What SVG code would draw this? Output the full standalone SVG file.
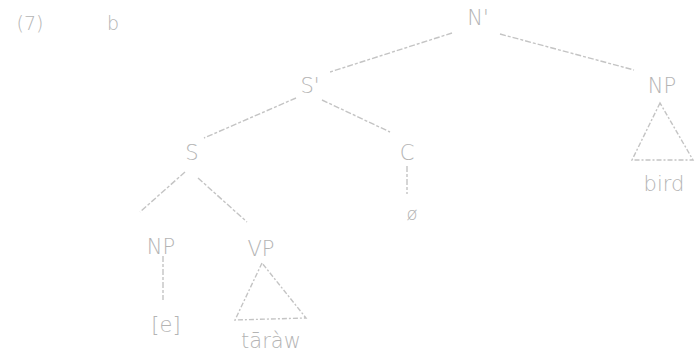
<svg xmlns="http://www.w3.org/2000/svg" width="696" height="358" viewBox="0 0 696 358">
<style>
text{font-family:"DejaVu Sans","Liberation Sans",sans-serif;font-size:21px;fill:#b4b4b4;text-anchor:middle;font-weight:300}
.e{stroke:#c4c4c4;stroke-width:1.4;fill:none;stroke-dasharray:6 2 3 2}
.t{stroke:#c4c4c4;stroke-width:1.4;fill:none;stroke-dasharray:5 2 2 2}
</style>
<rect width="696" height="358" fill="#fff"/>
<g id="label"><text x="30" y="30" style="font-size:19px">(7)</text><text x="113" y="30" style="font-size:19px">b</text></g>
<g id="connectors">
<line class="e" x1="452" y1="33" x2="330" y2="72"/>
<line class="e" x1="500" y1="34" x2="634" y2="70"/>
<line class="e" x1="296" y1="98" x2="204" y2="138"/>
<line class="e" x1="322" y1="100" x2="390" y2="132"/>
<line class="e" x1="407" y1="166" x2="407" y2="194"/>
<line class="e" x1="185" y1="172" x2="140" y2="212"/>
<line class="e" x1="198" y1="178" x2="247" y2="222"/>
<line class="e" x1="163" y1="256" x2="163" y2="300"/>
</g>
<g id="n-Nbar"><text x="478" y="25">N'</text></g>
<g id="n-Sbar"><text x="310" y="93">S'</text></g>
<g id="n-NP2"><text x="662" y="93">NP</text><polygon class="t" points="660,103 632,160 693,160"/><text x="664" y="191">bird</text></g>
<g id="n-S"><text x="192" y="160">S</text></g>
<g id="n-C"><text x="407" y="160">C</text></g>
<g id="n-null"><text x="412" y="220" style="font-size:18px">ø</text></g>
<g id="n-NP1"><text x="161" y="254">NP</text></g>
<g id="n-e"><text x="166" y="332">[e]</text></g>
<g id="n-VP"><text x="261" y="256">VP</text><polygon class="t" points="262,263 235,320 306,318"/><text x="271" y="348">tāràw</text></g>
</svg>
